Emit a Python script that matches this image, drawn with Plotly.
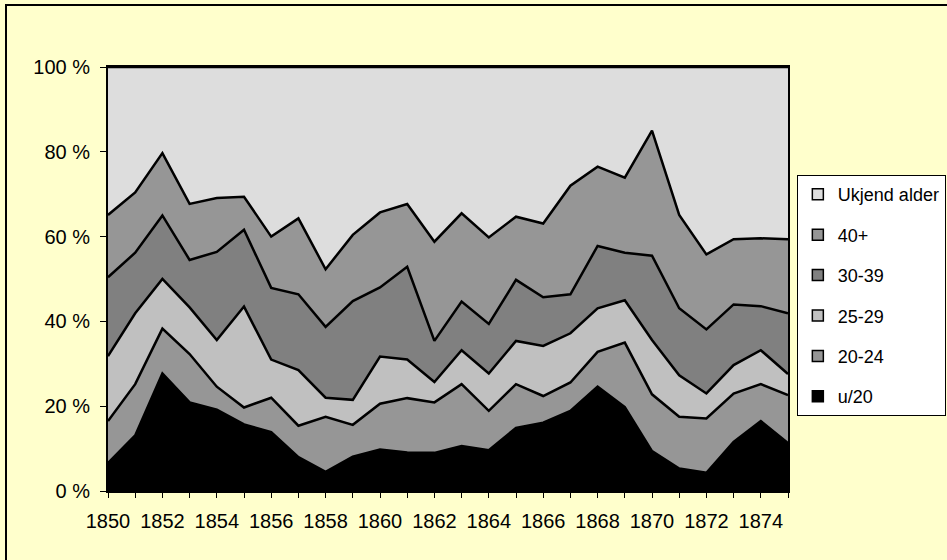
import plotly.graph_objects as go

years = list(range(1850, 1876))
tick_years = list(range(1850, 1875, 2))

u20 = [6.6, 13.1, 27.7, 20.9, 19.2, 15.7, 13.9, 8.0, 4.5, 8.1, 9.8, 9.1, 9.0, 10.6, 9.6, 14.9, 16.1, 18.9, 24.6, 19.8, 9.4, 5.3, 4.3, 11.6, 16.5, 11.3]
a20_24 = [9.9, 12.1, 10.6, 11.4, 5.4, 4.0, 8.1, 7.4, 13.0, 7.5, 10.8, 12.8, 11.9, 14.6, 9.3, 10.3, 6.3, 6.7, 8.2, 15.2, 13.4, 12.2, 12.8, 11.4, 8.7, 11.3]
a25_29 = [15.3, 16.7, 11.7, 11.0, 11.0, 23.8, 9.0, 13.1, 4.5, 5.9, 11.1, 9.1, 4.8, 8.0, 8.8, 10.2, 11.8, 11.6, 10.3, 10.0, 12.8, 9.8, 5.9, 6.7, 8.0, 5.0]
a30_39 = [18.6, 14.3, 15.0, 11.2, 20.8, 18.1, 16.9, 17.9, 16.7, 23.3, 16.3, 21.9, 9.7, 11.5, 11.7, 14.4, 11.5, 9.2, 14.7, 11.2, 19.9, 15.8, 15.1, 14.3, 10.4, 14.3]
a40p = [14.7, 14.2, 14.7, 13.2, 12.7, 7.8, 12.1, 17.9, 13.6, 15.6, 17.7, 14.8, 23.4, 20.8, 20.4, 14.9, 17.4, 25.6, 18.7, 17.7, 29.5, 22.0, 17.7, 15.4, 16.0, 17.5]
ukjend = [34.9, 29.6, 20.3, 32.3, 30.9, 30.6, 40.0, 35.7, 47.7, 39.6, 34.3, 32.3, 41.2, 34.5, 40.2, 35.3, 36.9, 28.0, 23.5, 26.1, 15.0, 34.9, 44.2, 40.6, 40.4, 40.6]

series_names = ["u/20", "20-24", "25-29", "30-39", "40+", "Ukjend alder"]
series_values = [u20, a20_24, a25_29, a30_39, a40p, ukjend]
series_colors = ["#000000", "#969696", "#C0C0C0", "#808080", "#969696", "#DDDDDD"]

FONT = "Arial, Liberation Sans, sans-serif"

fig = go.Figure()
for name, vals, col in zip(series_names, series_values, series_colors):
    fig.add_trace(go.Scatter(
        x=years, y=vals, name=name, mode="lines",
        stackgroup="one", groupnorm="percent",
        line=dict(color="black", width=2.5),
        fillcolor=col, showlegend=False, hoverinfo="skip",
    ))

# legend entries (top to bottom)
for name, col in reversed(list(zip(series_names, series_colors))):
    fig.add_trace(go.Scatter(
        x=[None], y=[None], mode="markers", name=name,
        legendgroup=name,
        marker=dict(symbol="square", size=11, color=col,
                    line=dict(color="black", width=1.5)),
    ))

fig.update_layout(
    width=947, height=560, autosize=False,
    margin=dict(l=108, r=159, t=67, b=69, autoexpand=False),
    paper_bgcolor="#FFFFCC",
    plot_bgcolor="#DDDDDD",
    font=dict(family=FONT, size=20, color="black"),
    legend=dict(
        x=1.013, xanchor="left", y=0.745, yanchor="top",
        bgcolor="white", bordercolor="black", borderwidth=1,
        traceorder="grouped", tracegroupgap=14,
        font=dict(family=FONT, size=18, color="black"),
        itemclick=False,
    ),
    xaxis=dict(
        range=[1850, 1875], tickmode="array", tickvals=tick_years,
        ticktext=[str(y) for y in tick_years],
        ticks="outside", ticklen=5, tickcolor="black", tickwidth=1,
        minor=dict(tickmode="array", tickvals=years, ticks="outside",
                   ticklen=5, tickcolor="black", tickwidth=1),
        showline=True, linecolor="black", linewidth=2, mirror=True,
        showgrid=False, zeroline=False, ticklabelstandoff=6,
    ),
    yaxis=dict(
        range=[0, 100], tickmode="array", tickvals=[0, 20, 40, 60, 80, 100],
        ticktext=["0 %", "20 %", "40 %", "60 %", "80 %", "100 %"],
        ticks="outside", ticklen=6, tickcolor="black", tickwidth=1,
        showline=True, linecolor="black", linewidth=2, mirror=True,
        showgrid=False, zeroline=False, ticklabelstandoff=6,
    ),
    shapes=[dict(type="rect", xref="paper", yref="paper",
                 x0=-0.15, x1=1.4, y0=-0.3, y1=1.146,
                 line=dict(color="black", width=2), layer="below",
                 fillcolor="rgba(0,0,0,0)")],
)

fig.write_html(
    "out.html",
    config={"displayModeBar": False},
    post_script="document.body.style.margin='0px';document.body.style.overflow='hidden';",
)
